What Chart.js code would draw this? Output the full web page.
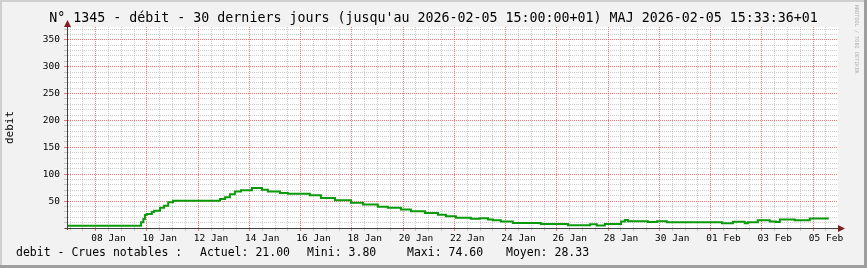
<!DOCTYPE html>
<html>
<head>
<meta charset="utf-8">
<script src="https://cdn.jsdelivr.net/npm/chart.js@4/dist/chart.umd.min.js"></script>
<style>
html, body { margin: 0; padding: 0; background: #f2f2f2; }
#box { width: 867px; height: 268px; }
</style>
</head>
<body>
<div id="box"><canvas id="graphe" width="867" height="268"></canvas></div>
<script>
// jours depuis le 08 Jan 2026 00:00 (debut de chaque palier)
var jours = [-1.12, 1.77, 1.86, 1.92, 1.99, 2.19, 2.28, 2.51, 2.67, 2.83, 3.02, 4.85, 5.05, 5.24, 5.43, 5.67,
    6.10, 6.49, 6.72, 7.19, 7.50, 8.36, 8.79, 9.34, 9.96, 10.43, 11.01, 11.40, 11.91, 12.30, 12.85, 13.36,
    13.67, 14.06, 14.64, 14.99, 15.31, 15.50, 15.81, 16.28, 17.37, 18.43, 19.29, 19.56, 19.87, 20.50, 20.65,
    20.77, 21.55, 21.90, 22.29, 24.44, 24.87, 25.33, 25.45, 25.84, 26.31, 26.54, 26.70, 27.28, 27.87, 28.26, 28.61];
var debit = [0, 4.3, 10.5, 16.7, 24.1, 26, 29.7, 32.2, 37.7, 41.4, 48, 50.7, 53.9, 57, 63, 68,
    70, 74.6, 71, 68, 65, 63.5, 61, 56, 51.5, 47, 43.5, 39.5, 37.5, 34.5, 31, 28,
    24.5, 21.8, 19, 17, 18, 16, 14.3, 12, 9.5, 7.5, 5, 6.8, 4.5, 7.5, 12.3,
    15, 12.5, 11, 12.5, 10.5, 9, 11.5, 9, 10.5, 14.5, 12, 11, 16, 14.5, 17.5, 17.5];

var xLabels = ['08 Jan', '10 Jan', '12 Jan', '14 Jan', '16 Jan', '18 Jan', '20 Jan', '22 Jan',
    '24 Jan', '26 Jan', '28 Jan', '30 Jan', '01 Feb', '03 Feb', '05 Feb'];
var yLabels = [50, 100, 150, 200, 250, 300, 350];

var titre = "N\u00b0 1345 - d\u00e9bit - 30 derniers jours (jusqu'au 2026-02-05 15:00:00+01) MAJ 2026-02-05 15:33:36+01";
var legende = ['debit - Crues notables :', 'Actuel: 21.00', 'Mini: 3.80', 'Maxi: 74.60', 'Moyen: 28.33'];

var mono = 'DejaVu Sans Mono';
var gris = 'rgba(143,143,143,0.45)';
var rouge = 'rgba(232,64,64,0.7)';

function estEntier(v) { return Math.abs(v - Math.round(v)) < 1e-6; }

var points = [];
for (var i = 0; i < jours.length; i++) points.push({x: jours[i], y: debit[i]});

var decor = {
    id: 'decor',
    beforeDraw: function(chart) {
        var c = chart.ctx, a = chart.chartArea;
        c.save();
        c.fillStyle = '#f2f2f2';
        c.fillRect(0, 0, 867, 268);
        c.fillStyle = '#cfcfcf';
        c.fillRect(0, 0, 867, 2);
        c.fillRect(0, 0, 2, 268);
        c.fillStyle = '#9e9e9e';
        c.fillRect(864, 0, 3, 268);
        c.fillRect(0, 265, 867, 3);
        c.fillStyle = '#ffffff';
        c.fillRect(a.left, a.top, a.right - a.left, a.bottom - a.top);
        c.restore();
    },
    afterDraw: function(chart) {
        var c = chart.ctx, a = chart.chartArea;
        c.save();
        // prolongement des axes et fleches
        c.strokeStyle = '#404040';
        c.lineWidth = 1;
        c.beginPath();
        c.moveTo(a.left + 0.5, a.bottom + 2);
        c.lineTo(a.left + 0.5, a.top - 2);
        c.moveTo(a.left - 2, a.bottom + 0.5);
        c.lineTo(a.right + 2, a.bottom + 0.5);
        c.stroke();
        c.fillStyle = '#7f1f1f';
        c.beginPath();
        c.moveTo(a.left + 0.5, a.top - 7);
        c.lineTo(a.left - 3, a.top);
        c.lineTo(a.left + 4, a.top);
        c.closePath();
        c.fill();
        c.beginPath();
        c.moveTo(a.right + 7, a.bottom + 0.5);
        c.lineTo(a.right, a.bottom - 3);
        c.lineTo(a.right, a.bottom + 4);
        c.closePath();
        c.fill();
        // legende du bas
        c.fillStyle = '#000';
        c.font = '11.5px "' + mono + '"';
        c.textBaseline = 'middle';
        var xs = [16, 200, 307, 407, 506];
        for (var k = 0; k < legende.length; k++) c.fillText(legende[k], xs[k], 253);
        // signature verticale
        c.translate(856, 5);
        c.rotate(Math.PI / 2);
        c.fillStyle = '#b0b0b0';
        c.font = '5.2px "' + mono + '"';
        c.textBaseline = 'middle';
        c.fillText('RRDTOOL / TOBI OETIKER', 0, 0);
        c.restore();
    }
};

var ctx = document.getElementById('graphe').getContext('2d');
var graphe = new Chart(ctx, {
    type: 'line',
    data: {
        datasets: [{
            label: 'debit',
            data: points,
            stepped: 'after',
            borderColor: '#0a9a0a',
            borderWidth: 2,
            pointRadius: 0,
            fill: false
        }]
    },
    options: {
        responsive: false,
        animation: false,
        devicePixelRatio: 1,
        layout: { padding: 0 },
        plugins: {
            legend: { display: false },
            tooltip: { enabled: false },
            title: {
                display: true,
                text: titre,
                color: '#000',
                font: { family: mono, size: 13.3, weight: 'normal' },
                padding: { top: 11, bottom: 0 }
            }
        },
        scales: {
            x: {
                type: 'linear',
                min: -1.12,
                max: 28.97,
                afterBuildTicks: function(s) {
                    var t = [];
                    for (var d = -1; d <= s.max; d += 0.5) t.push({value: d});
                    s.ticks = t;
                },
                afterFit: function(s) { s.height = 40; },
                grid: {
                    color: function(c) {
                        if (!c.tick) return gris;
                        return estEntier(c.tick.value / 2) ? rouge : gris;
                    },
                    lineWidth: 1,
                    tickLength: 3
                },
                border: { color: '#404040', width: 1, dash: [1, 1] },
                ticks: {
                    autoSkip: false,
                    maxRotation: 0,
                    padding: 2,
                    color: '#000',
                    font: { family: mono, size: 9.5 },
                    callback: function(v) {
                        var k = (v - 0.5) / 2;
                        if (estEntier(k) && xLabels[Math.round(k)]) return xLabels[Math.round(k)];
                        return '';
                    }
                }
            },
            y: {
                min: 0,
                max: 374,
                afterBuildTicks: function(s) {
                    var t = [];
                    for (var v = 0; v <= 370; v += 10) t.push({value: v});
                    s.ticks = t;
                },
                afterFit: function(s) { s.width = 67; },
                title: {
                    display: true,
                    text: 'debit',
                    color: '#000',
                    font: { family: mono, size: 11 },
                    padding: { top: 4, bottom: 0 }
                },
                grid: {
                    color: function(c) {
                        if (!c.tick) return gris;
                        return (c.tick.value % 50 === 0) ? rouge : gris;
                    },
                    lineWidth: 1,
                    tickLength: 3
                },
                border: { color: '#404040', width: 1, dash: [1, 1] },
                ticks: {
                    autoSkip: false,
                    padding: 4,
                    color: '#000',
                    font: { family: mono, size: 9.5 },
                    callback: function(v) {
                        return yLabels.indexOf(v) >= 0 ? String(v) : '';
                    }
                }
            },
            marge: {
                type: 'linear',
                position: 'right',
                afterFit: function(s) { s.width = 29; },
                grid: { display: false },
                ticks: { display: false },
                border: { display: false }
            }
        }
    },
    plugins: [decor]
});
</script>
</body>
</html>
